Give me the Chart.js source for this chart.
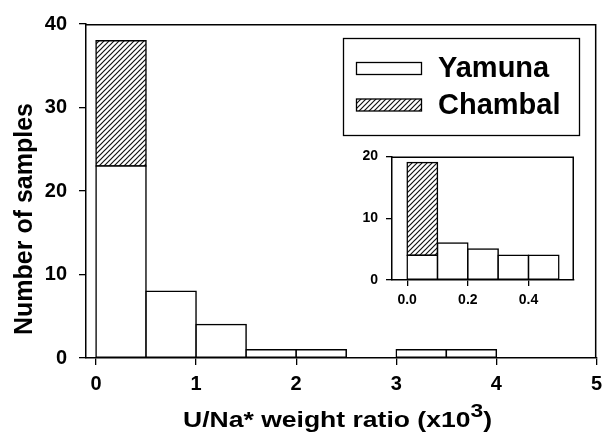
<!DOCTYPE html>
<html>
<head>
<meta charset="utf-8">
<script src="https://cdn.jsdelivr.net/npm/chart.js@4.4.1/dist/chart.umd.min.js"></script>
<style>
html, body { margin: 0; padding: 0; background: #fff; }
#wrap { position: relative; width: 609px; height: 433px; }
#main { position: absolute; left: 0; top: 0; }
#inset { position: absolute; left: 350px; top: 140px; }
</style>
</head>
<body>
<div id="wrap">
  <canvas id="main" width="609" height="433" style="width:609px;height:433px"></canvas>
  <canvas id="inset" width="232" height="180" style="width:232px;height:180px"></canvas>
</div>
<script>
// histogram bins (centres), bin width 0.5 (x10^3)
var binCenters = [0.25, 0.75, 1.25, 1.75, 2.25, 2.75, 3.25, 3.75, 4.25, 4.75];
var yamuna = [23, 8, 4, 1, 1, 0, 1, 1, 0, 0];
var chambal = [15, 0, 0, 0, 0, 0, 0, 0, 0, 0];
var xTicks = [0, 1, 2, 3, 4, 5];
var yTicks = [0, 10, 20, 30, 40];

// inset: first 0.5 split in bins of 0.1
var insetCenters = [0.05, 0.15, 0.25, 0.35, 0.45];
var insetYamuna = [4, 6, 5, 4, 4];
var insetChambal = [15, 0, 0, 0, 0];
var insetXTicks = [0.0, 0.2, 0.4];
var insetYTicks = [0, 10, 20];

var seriesNames = ['Yamuna', 'Chambal'];
var xTitle = ['U/Na* weight ratio (x10', '3', ')'];
var yTitle = 'Number of samples';

var FONT = '"Liberation Sans", Arial, sans-serif';

function hatch(ctx, size) {
    var c = document.createElement('canvas');
    c.width = size; c.height = size;
    var g = c.getContext('2d');
    g.fillStyle = '#fff';
    g.fillRect(0, 0, size, size);
    g.strokeStyle = '#111';
    g.lineWidth = 1.2;
    g.beginPath();
    g.moveTo(0, size); g.lineTo(size, 0);
    g.moveTo(-size, size); g.lineTo(size, -size);
    g.moveTo(0, 2 * size); g.lineTo(2 * size, 0);
    g.stroke();
    return ctx.createPattern(c, 'repeat');
}

function pts(xs, ys) {
    return xs.map(function (x, i) { return { x: x, y: ys[i] }; });
}

// top and right sides of the box
var framePlugin = {
    id: 'frame',
    afterDraw: function (chart) {
        var a = chart.chartArea, ctx = chart.ctx;
        ctx.save();
        ctx.strokeStyle = '#000';
        ctx.lineWidth = 1.5;
        ctx.beginPath();
        ctx.moveTo(a.left, a.top + 0.75);
        ctx.lineTo(a.right - 0.75, a.top + 0.75);
        ctx.lineTo(a.right - 0.75, a.bottom);
        ctx.stroke();
        ctx.restore();
    }
};

var legendPlugin = {
    id: 'boxLegend',
    afterDraw: function (chart) {
        var ctx = chart.ctx;
        var ds = chart.data.datasets;
        ctx.save();
        ctx.strokeStyle = '#000';
        ctx.lineWidth = 1.3;
        ctx.strokeRect(343.5, 38.5, 236, 97);
        ds.forEach(function (d, i) {
            var y = 62 + i * 36.5;
            ctx.fillStyle = d.backgroundColor;
            ctx.fillRect(356.5, y + 0.5, 65, 12);
            ctx.strokeRect(356.5, y + 0.5, 65, 12);
            ctx.fillStyle = '#000';
            ctx.font = 'bold 29px ' + FONT;
            ctx.textBaseline = 'alphabetic';
            ctx.fillText(d.label, 438, y + 15);
        });
        ctx.restore();
    }
};

var titlePlugin = {
    id: 'axisTitles',
    afterDraw: function (chart) {
        var ctx = chart.ctx;
        ctx.save();
        ctx.fillStyle = '#000';
        ctx.textBaseline = 'alphabetic';
        // x title with superscript, stretched to the reference width
        var big = 'bold 22px ' + FONT, sup = 'bold 19px ' + FONT;
        ctx.font = big;
        var w1 = ctx.measureText(xTitle[0]).width;
        var w3 = ctx.measureText(xTitle[2]).width;
        ctx.font = sup;
        var w2 = ctx.measureText(xTitle[1]).width;
        var total = w1 + w2 + w3;
        var sx = 309 / total;
        ctx.translate(183, 427);
        ctx.scale(sx, 1);
        ctx.font = big;
        ctx.fillText(xTitle[0], 0, 0);
        ctx.fillText(xTitle[2], w1 + w2, 0);
        ctx.font = sup;
        ctx.fillText(xTitle[1], w1, -10);
        ctx.restore();

        ctx.save();
        ctx.fillStyle = '#000';
        ctx.font = 'bold 25px ' + FONT;
        ctx.textAlign = 'center';
        ctx.textBaseline = 'alphabetic';
        ctx.translate(32, 219);
        ctx.rotate(-Math.PI / 2);
        ctx.fillText(yTitle, 0, 0);
        ctx.restore();
    }
};

function axisOpts(fontSize, pad, tickLen) {
    return {
        ticks: { color: '#000', font: { family: FONT, size: fontSize, weight: 'bold' }, padding: pad },
        grid: { drawOnChartArea: false, drawTicks: true, tickLength: tickLen, color: '#000', lineWidth: 1.3, offset: false },
        border: { display: true, color: '#000', width: 1.5 }
    };
}

function barSet(label, data, fill) {
    return {
        label: label,
        data: data,
        backgroundColor: fill,
        borderColor: '#000',
        borderWidth: 1.5,
        inflateAmount: 0.75,
        borderSkipped: false,
        barPercentage: 1,
        categoryPercentage: 1
    };
}

var mainCtx = document.getElementById('main').getContext('2d');
var hatchMain = hatch(mainCtx, 5);

var mx = axisOpts(20, 7, 7);
var my = axisOpts(20, 12, 7);

new Chart(mainCtx, {
    type: 'bar',
    data: {
        datasets: [
            barSet(seriesNames[0], pts(binCenters, yamuna), '#fff'),
            barSet(seriesNames[1], pts(binCenters, chambal), hatchMain)
        ]
    },
    options: {
        responsive: false,
        animation: false,
        layout: { padding: { top: 23, right: 5, left: 0, bottom: 0 } },
        plugins: { legend: { display: false }, tooltip: { enabled: false } },
        scales: {
            x: Object.assign(mx, {
                type: 'linear', stacked: true, offset: false, min: -0.1, max: 5,
                afterBuildTicks: function (s) { s.ticks = xTicks.map(function (v) { return { value: v }; }); },
                afterFit: function (s) { s.height = 75; }
            }),
            y: Object.assign(my, {
                type: 'linear', stacked: true, min: 0, max: 40,
                afterBuildTicks: function (s) { s.ticks = yTicks.map(function (v) { return { value: v }; }); },
                afterFit: function (s) { s.width = 86; }
            })
        }
    },
    plugins: [framePlugin, legendPlugin, titlePlugin]
});

var insetCtx = document.getElementById('inset').getContext('2d');
var hatchInset = hatch(insetCtx, 5);

var ix = axisOpts(14, 6, 6);
var iy = axisOpts(14, 8, 6);
ix.ticks.callback = function (v) { return Number(v).toFixed(1); };

new Chart(insetCtx, {
    type: 'bar',
    data: {
        datasets: [
            barSet(seriesNames[0], pts(insetCenters, insetYamuna), '#fff'),
            barSet(seriesNames[1], pts(insetCenters, insetChambal), hatchInset)
        ]
    },
    options: {
        responsive: false,
        animation: false,
        layout: { padding: { top: 11, right: 8, left: 0, bottom: 0 } },
        plugins: { legend: { display: false }, tooltip: { enabled: false } },
        scales: {
            x: Object.assign(ix, {
                type: 'linear', stacked: true, offset: false, min: -0.05, max: 0.55,
                afterBuildTicks: function (s) { s.ticks = insetXTicks.map(function (v) { return { value: v }; }); },
                afterFit: function (s) { s.height = 40; }
            }),
            y: Object.assign(iy, {
                type: 'linear', stacked: true, min: 0, max: 20,
                afterBuildTicks: function (s) { s.ticks = insetYTicks.map(function (v) { return { value: v }; }); },
                afterFit: function (s) { s.width = 42; }
            })
        }
    },
    plugins: [framePlugin]
});
</script>
</body>
</html>
